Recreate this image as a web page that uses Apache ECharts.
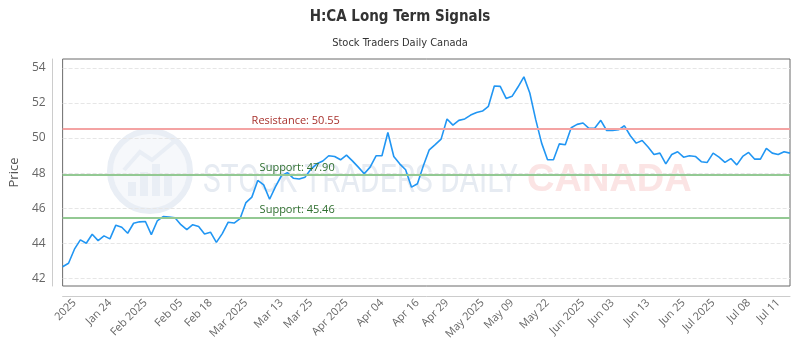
<!DOCTYPE html>
<html>
    <head>
        <meta charset="UTF-8">
        <script src="https://cdn.jsdelivr.net/npm/echarts@6/dist/echarts.min.js"></script>
        <style>
            body { margin: 0; background: #fff; }
        </style>
    </head>

    <body>
        <div id="main" style="width:800px;height:350px"></div>
        <script type="text/javascript">
            // daily closes, Jan -> Jul 2025
            var prices = [
                42.66, 42.86, 43.66, 44.19, 44.00, 44.51, 44.15, 44.42, 44.25, 45.03,
                44.91, 44.57, 45.14, 45.22, 45.24, 44.49, 45.27, 45.52, 45.49, 45.45,
                45.06, 44.78, 45.06, 44.95, 44.53, 44.63, 44.05, 44.55, 45.20, 45.15,
                45.40, 46.32, 46.63, 47.58, 47.33, 46.51, 47.23, 47.85, 48.03, 47.71,
                47.66, 47.77, 48.23, 48.53, 48.69, 48.99, 48.95, 48.76, 49.03, 48.70,
                48.34, 47.96, 48.34, 48.99, 48.99, 50.32, 48.95, 48.53, 48.19, 47.20,
                47.39, 48.42, 49.33, 49.63, 49.94, 51.09, 50.74, 51.01, 51.09, 51.31,
                51.46, 51.54, 51.81, 52.97, 52.95, 52.26, 52.38, 52.91, 53.49, 52.57,
                51.05, 49.71, 48.76, 48.76, 49.67, 49.62, 50.59, 50.78, 50.86, 50.55,
                50.57, 51.01, 50.43, 50.43, 50.47, 50.70, 50.13, 49.71, 49.86, 49.49,
                49.06, 49.14, 48.53, 49.06, 49.22, 48.91, 48.99, 48.95, 48.65, 48.61,
                49.14, 48.91, 48.61, 48.83, 48.47, 48.95, 49.18, 48.80, 48.80, 49.41,
                49.14, 49.06, 49.22, 49.14
            ];
            var tickAt = [2, 8, 14, 20, 25, 31, 37, 42, 48, 54, 60, 65, 71, 76, 82, 88, 93, 99, 105, 110, 116, 121];
            var tickLabels = [
                '2025', 'Jan 24', 'Feb 2025', 'Feb 05', 'Feb 18', 'Mar 2025', 'Mar 13', 'Mar 25',
                'Apr 2025', 'Apr 04', 'Apr 16', 'Apr 29', 'May 2025', 'May 09', 'May 22',
                'Jun 2025', 'Jun 03', 'Jun 13', 'Jun 25', 'Jul 2025', 'Jul 08', 'Jul 11'
            ];
            var resistance = 50.55;
            var supports = [47.90, 45.46];

            var categories = prices.map(function (p, i) { return String(i); });

            var condensed = '"DejaVu Sans Condensed", Roboto, sans-serif';

            var chartDom = document.getElementById('main');
            var myChart = echarts.init(chartDom);

            var levelLines = [{
                yAxis: resistance,
                lineStyle: { color: '#f4a3a3', width: 2, type: 'solid' },
                label: { color: '#a8322d', distance: [189, 2], formatter: 'Resistance: ' + resistance.toFixed(2) }
            }];
            supports.forEach(function (s) {
                levelLines.push({
                    yAxis: s,
                    lineStyle: { color: '#93c993', width: 2, type: 'solid' },
                    label: { color: '#2f6f2f', distance: [197, 2], formatter: 'Support: ' + s.toFixed(2) }
                });
            });

            // faint logo behind the plot
            var logoColor = '#e9eef5';
            var logo = [
                {
                    type: 'circle', z: 0, silent: true,
                    shape: { cx: 150, cy: 171, r: 40 },
                    style: { fill: '#f6f8fb', stroke: logoColor, lineWidth: 6 }
                }
            ];
            [[128, 182, 8, 14], [140, 172, 8, 24], [152, 164, 8, 32], [164, 176, 8, 20]].forEach(function (b) {
                logo.push({
                    type: 'rect', z: 0, silent: true,
                    shape: { x: b[0], y: b[1], width: b[2], height: b[3] },
                    style: { fill: logoColor }
                });
            });
            logo.push({
                type: 'polyline', z: 0, silent: true,
                shape: { points: [[124, 170], [140, 152], [152, 160], [176, 140]] },
                style: { stroke: logoColor, lineWidth: 4, fill: null }
            });

            var option;
            option = {
                animation: false,
                title: [
                    {
                        text: 'H:CA Long Term Signals',
                        left: 'center',
                        top: 5,
                        textStyle: { fontFamily: condensed, fontWeight: 'bold', fontSize: 15, color: '#333' }
                    },
                    {
                        text: 'Stock Traders Daily Canada',
                        left: 'center',
                        top: 33,
                        textStyle: { fontFamily: condensed, fontWeight: 'normal', fontSize: 11, color: '#333' }
                    }
                ],
                graphic: logo.concat([
                    {
                        type: 'text', z: 0, silent: true,
                        x: 203, y: 162, scaleX: 0.83, scaleY: 1.1,
                        style: {
                            text: 'STOCK TRADERS DAILY',
                            font: '36px Roboto',
                            fill: '#e6ebf2'
                        }
                    },
                    {
                        type: 'text', z: 0, silent: true,
                        x: 527, y: 162,
                        style: {
                            text: 'CANADA',
                            font: 'bold 38px "Liberation Sans", Arial',
                            fill: '#fbe4e4'
                        }
                    }
                ]),
                grid: {
                    left: 60,
                    right: 10,
                    top: 59,
                    bottom: 64,
                    show: true,
                    borderColor: '#6b6b6b',
                    borderWidth: 1,
                    backgroundColor: 'transparent'
                },
                xAxis: {
                    type: 'category',
                    data: categories,
                    boundaryGap: false,
                    offset: 10,
                    axisLine: { show: true, lineStyle: { color: '#cccccc' } },
                    axisTick: { show: false },
                    splitLine: { show: false },
                    axisLabel: {
                        rotate: 45,
                        margin: 5,
                        fontSize: 11,
                        fontFamily: 'Open Sans',
                        color: '#666',
                        interval: function (i) { return tickAt.indexOf(i) >= 0; },
                        formatter: function (v, i) { return tickLabels[tickAt.indexOf(i)]; }
                    }
                },
                yAxis: {
                    type: 'value',
                    min: 41.56,
                    max: 54.51,
                    splitNumber: 6,
                    offset: 10,
                    name: 'Price',
                    nameLocation: 'middle',
                    nameGap: 27,
                    nameTextStyle: { fontFamily: 'Open Sans', fontSize: 13, color: '#555' },
                    axisLine: { show: true, lineStyle: { color: '#cccccc' } },
                    axisTick: { show: false },
                    axisLabel: {
                        showMinLabel: false,
                        showMaxLabel: false,
                        margin: 7,
                        padding: [5, 0, 0, 0],
                        fontSize: 12,
                        fontFamily: 'Open Sans',
                        color: '#666'
                    },
                    splitLine: {
                        showMinLine: false,
                        showMaxLine: false,
                        lineStyle: { color: '#e6e6e6', type: 'dashed' }
                    }
                },
                series: [
                    {
                        name: 'H:CA',
                        type: 'line',
                        data: prices,
                        showSymbol: false,
                        symbol: 'none',
                        z: 3,
                        lineStyle: { color: '#2196f3', width: 1.6 },
                        markLine: {
                            silent: true,
                            symbol: 'none',
                            label: {
                                position: 'insideStartTop',
                                fontSize: 11,
                                fontFamily: 'Open Sans'
                            },
                            data: levelLines
                        }
                    }
                ]
            };

            option && myChart.setOption(option);
        </script>
    </body>
</html>
